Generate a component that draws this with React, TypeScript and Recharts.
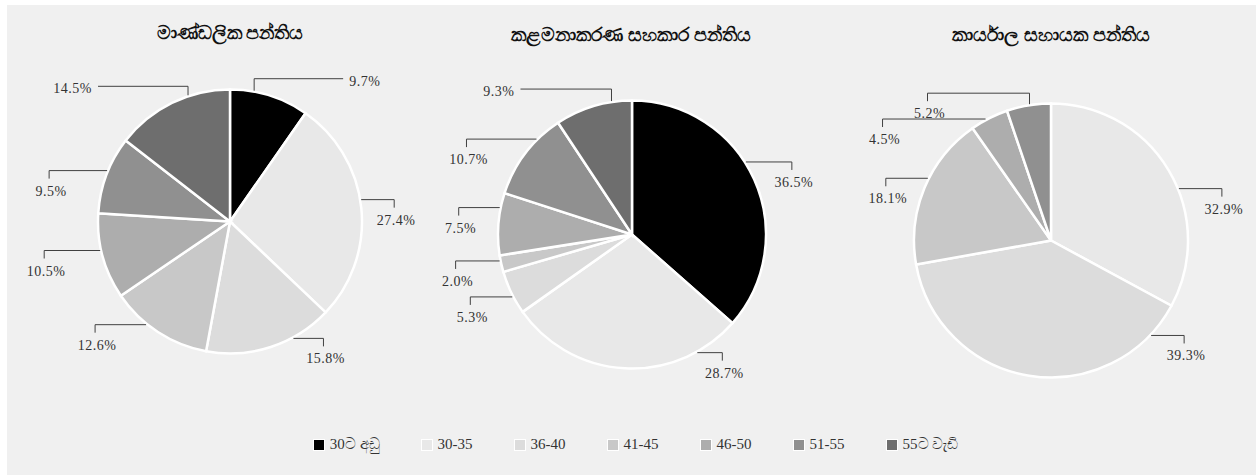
import React from 'react';
import { PieChart, Pie, Cell, Legend } from 'recharts';

const CATEGORIES = ['30ට අඩු', '30-35', '36-40', '41-45', '46-50', '51-55', '55ට වැඩි'];
const COLORS = ['#000000', '#e8e8e8', '#dcdcdc', '#c8c8c8', '#adadad', '#909090', '#6e6e6e'];

const TITLES = ['මාණ්ඩලික පන්තිය', 'කළමනාකරණ සහකාර පන්තිය', 'කාර්යාල සහායක පන්තිය'];
const REGIONAL = [9.7, 27.4, 15.8, 12.6, 10.5, 9.5, 14.5];
const CLERICAL = [36.5, 28.7, 5.3, 2.0, 7.5, 10.7, 9.3];
const OFFICE = [0, 32.9, 39.3, 18.1, 4.5, 5.2, 0];

// leader-line layout per slice: [angle nudge, rise, horizontal length, text mode]
type Leader = [number, number, number, 'below' | 'side'] | null;
const LEADERS_REGIONAL: Leader[] = [
  [7, 12, 89, 'side'],
  [3.7, 0, 33, 'below'],
  [10.5, 0, 30, 'below'],
  [-6, 0, 51, 'below'],
  [-2.7, 0, 56, 'below'],
  [-1.8, 0, 58, 'below'],
  [-7.7, 9, 90, 'side'],
];
const LEADERS_CLERICAL: Leader[] = [
  [8.2, 0, 46, 'below'],
  [32, 0, 25, 'below'],
  [1.8, 0, 42, 'below'],
  [-1.3, 0, 44, 'below'],
  [-7, 0, 41, 'below'],
  [-7.7, 0, 70, 'below'],
  [-8, 12, 91, 'side'],
];
const LEADERS_OFFICE: Leader[] = [
  null,
  [-8.7, 0, 43, 'below'],
  [55.7, 0, 33, 'below'],
  [-4.3, 0, 42, 'below'],
  [1.5, 0, 103, 'below'],
  [-0.4, 11, 102, 'below'],
  null,
];

const SERIES = [
  { values: REGIONAL, leaders: LEADERS_REGIONAL, cx: 223, cy: 216.5, r: 132, tx: 223, ty: 34 },
  { values: CLERICAL, leaders: LEADERS_CLERICAL, cx: 625, cy: 229.5, r: 134, tx: 624, ty: 36 },
  { values: OFFICE, leaders: LEADERS_OFFICE, cx: 1044, cy: 235.5, r: 137, tx: 1044, ty: 36 },
];

const W = 1249;
const H = 470;
const FONT = "'Liberation Serif', 'Times New Roman', Tinos, 'DejaVu Serif', serif";
const RAD = Math.PI / 180;

const makeLabel = (leaders: Leader[]) => (props: any) => {
  const { cx, cy, midAngle, outerRadius, payload } = props;
  const lead = leaders[payload.ci];
  if (!lead) return null;
  const [da, rise, len, mode] = lead;
  const a = (midAngle + da) * RAD;
  const px = cx + (outerRadius + 1) * Math.cos(a);
  const py = cy - (outerRadius + 1) * Math.sin(a);
  const dir = Math.cos(a) >= 0 ? 1 : -1;
  const ly = py - rise;
  const ex = px + dir * len;
  let d = `M${px},${py}L${px},${ly}L${ex},${ly}`;
  let tx: number, ty: number, anchor: string;
  if (mode === 'below') {
    d += `L${ex},${ly + 8}`;
    tx = ex + 2;
    ty = ly + 25;
    anchor = 'middle';
  } else {
    tx = ex + dir * 6;
    ty = ly + 7;
    anchor = dir > 0 ? 'start' : 'end';
  }
  return (
    <g key={`l-${payload.ci}`}>
      <path d={d} stroke="#404040" strokeWidth={1} fill="none" />
      <text
        x={tx}
        y={ty}
        textAnchor={anchor}
        fill="#333"
        style={{ fontFamily: FONT, fontSize: 14, letterSpacing: 0.5 }}
      >
        {payload.value.toFixed(1)}%
      </text>
    </g>
  );
};

const LegendContent = () => (
  <div
    style={{
      display: 'flex',
      justifyContent: 'center',
      alignItems: 'center',
      gap: 41,
      fontFamily: FONT,
      fontSize: 15,
      color: '#333',
      marginLeft: 8,
    }}
  >
    {CATEGORIES.map((c, i) => (
      <div key={c} style={{ display: 'flex', alignItems: 'center' }}>
        <span
          style={{
            display: 'inline-block',
            width: 10,
            height: 10,
            background: COLORS[i],
            border: '1px solid #fff',
            marginRight: 5,
          }}
        />
        <span>{c}</span>
      </div>
    ))}
  </div>
);

export default function App() {
  return (
    <div
      style={{
        position: 'absolute',
        left: 7,
        top: 5,
        width: W,
        height: H,
        background: '#f0f0f0',
        fontFamily: FONT,
      }}
    >
      <PieChart width={W} height={H} margin={{ top: 0, right: 0, bottom: 0, left: 0 }}>
        {SERIES.map((s, k) => {
          const rows = s.values
            .map((v, ci) => ({ name: CATEGORIES[ci], value: v, ci }))
            .filter((r) => r.value > 0);
          return (
            <Pie
              key={k}
              data={rows}
              dataKey="value"
              nameKey="name"
              cx={s.cx}
              cy={s.cy}
              outerRadius={s.r}
              startAngle={90}
              endAngle={-270}
              stroke="#ffffff"
              strokeWidth={2.5}
              isAnimationActive={false}
              labelLine={false}
              label={makeLabel(s.leaders)}
            >
              {rows.map((r) => (
                <Cell key={r.ci} fill={COLORS[r.ci]} />
              ))}
            </Pie>
          );
        })}
        {SERIES.map((s, k) => (
          <text
            key={`t${k}`}
            x={s.tx}
            y={s.ty}
            textAnchor="middle"
            fill="#111"
            style={{ fontFamily: FONT, fontSize: 19, fontWeight: 'bold' }}
          >
            {TITLES[k]}
          </text>
        ))}
        <Legend
          content={LegendContent}
          wrapperStyle={{ position: 'absolute', left: 0, top: 431, width: W, height: 24 }}
        />
      </PieChart>
    </div>
  );
}
